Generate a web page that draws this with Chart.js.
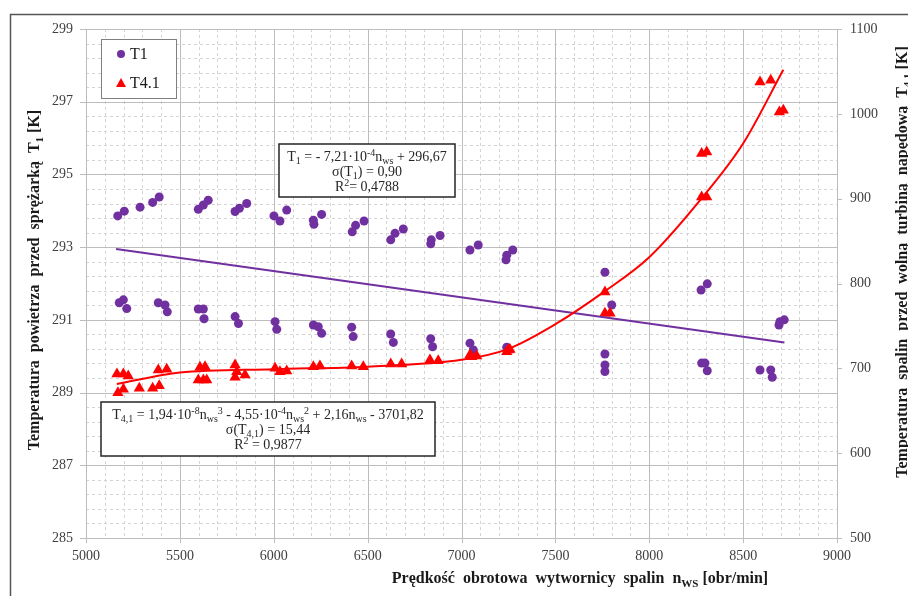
<!DOCTYPE html>
<html>
<head>
<meta charset="utf-8">
<script src="https://cdn.jsdelivr.net/npm/chart.js@4.4.1/dist/chart.umd.min.js"></script>
<style>
html, body { margin: 0; padding: 0; background: #fff; }
#chart { display: block; }
</style>
</head>
<body>
<canvas id="chart" width="908" height="596"></canvas>
<script>

/// DATA ///

// T1 - air temperature before the compressor [K]
const t1Rpm = [5169, 5204, 5288, 5355, 5390, 5598, 5625, 5651, 5794, 5817, 5856, 6001, 6033, 6069,
    6211, 6214, 6255, 6418, 6436, 6481, 6623, 6646, 6690, 6836, 6839, 6886, 7045, 7089, 7237, 7241, 7273,
    5177, 5199, 5217, 5385, 5421, 5433, 5598, 5625, 5629, 5794, 5812, 6007, 6016, 6211, 6237, 6255,
    6415, 6423, 6623, 6637, 6836, 6846, 7045, 7063, 7241,
    7764, 7800, 7764, 7764, 7764, 8276, 8309, 8279, 8297, 8309, 8590, 8647, 8655, 8691, 8696, 8719];
const t1Temp = [293.86, 293.99, 294.10, 294.23, 294.38, 294.04, 294.16, 294.29, 293.98, 294.07, 294.20, 293.86, 293.72, 294.02,
    293.74, 293.63, 293.90, 293.42, 293.60, 293.72, 293.20, 293.38, 293.50, 293.09, 293.20, 293.32, 292.92, 293.06, 292.65, 292.78, 292.92,
    291.47, 291.55, 291.31, 291.47, 291.41, 291.22, 291.30, 291.30, 291.03, 291.09, 290.90, 290.95, 290.74, 290.86, 290.81, 290.63,
    290.80, 290.54, 290.61, 290.38, 290.48, 290.26, 290.36, 290.17, 290.25,
    292.31, 291.41, 290.06, 289.76, 289.58, 291.82, 291.99, 289.81, 289.81, 289.60, 289.62, 289.62, 289.42, 290.86, 290.95, 291.00];

// T4.1 - exhaust temperature before the free power turbine [K]
const t41Rpm = [5165, 5199, 5225, 5170, 5199, 5284, 5355, 5390, 5385, 5430, 5607, 5634, 5598, 5625, 5643,
    5794, 5803, 5794, 5847, 6007, 6033, 6069, 6211, 6246, 6415, 6477, 6623, 6681, 6832, 6876,
    7054, 7081, 7045, 7241, 7258, 7250, 7764, 7764, 7791, 8279, 8306, 8279, 8306, 8590, 8647, 8693, 8714];
const t41Temp = [693.3, 693.3, 691.0, 671.3, 675.3, 676.4, 676.4, 679.5, 698.0, 698.8, 701.2, 701.9, 686.2, 686.2, 686.2,
    703.9, 696.0, 689.4, 692.1, 700.0, 696.0, 696.8, 702.0, 702.7, 702.7, 702.0, 705.0, 705.0, 709.8, 709.0,
    713.7, 714.5, 715.7, 719.5, 722.3, 721.6, 790.0, 764.8, 764.8, 902.1, 902.1, 953.2, 955.1, 1037.6, 1039.6, 1002.2, 1004.2];

// trend lines
const t1FitRpm = [5160, 8720];
const t1FitTemp = [292.95, 290.38];
const t41FitRpm = [5164, 5500, 6000, 6500, 7000, 7250, 7500, 7764, 8000, 8270, 8500, 8714];
const t41FitTemp = [681.5, 695, 699, 702, 710, 723, 752, 791, 831, 898, 965, 1052];

// axes
const xTicks = [5000, 5500, 6000, 6500, 7000, 7500, 8000, 8500, 9000];
const leftTicks = [285, 287, 289, 291, 293, 295, 297, 299];
const rightTicks = [500, 600, 700, 800, 900, 1000, 1100];

const PURPLE = '#7030A0';
const RED = '#FF0000';
const FONT = "'Liberation Serif', 'Times New Roman', serif";

const toPoints = (xs, ys) => xs.map((v, i) => ({ x: v, y: ys[i] }));


/// TEXT HELPER ///

// segs: [text, ''|'sub'|'sup']
function drawRich(ctx, segs, x, y, size, weight) {
    let total = 0;
    const parts = segs.map(s => {
        const kind = s[1] || '';
        const fs = kind ? Math.round(size * 0.68) : size;
        ctx.font = `${weight} ${fs}px ${FONT}`;
        const w = ctx.measureText(s[0]).width;
        total += w;
        return { text: s[0], kind, fs, w };
    });
    let cx = x - total / 2;
    ctx.textAlign = 'left';
    ctx.textBaseline = 'alphabetic';
    const base = y + size * 0.33;
    parts.forEach(p => {
        ctx.font = `${weight} ${p.fs}px ${FONT}`;
        let dy = 0;
        if (p.kind === 'sub') dy = size * 0.22;
        if (p.kind === 'sup') dy = -size * 0.36;
        ctx.fillText(p.text, cx, base + dy);
        cx += p.w;
    });
}


/// PLUGINS ///

const paperGrid = {
    id: 'paperGrid',
    beforeDraw(chart) {
        const ctx = chart.ctx;
        ctx.save();
        ctx.fillStyle = '#fff';
        ctx.fillRect(0, 0, chart.width, chart.height);
        ctx.restore();
    },
    beforeDatasetsDraw(chart) {
        const { ctx, chartArea: a } = chart;
        const { x, y, y2 } = chart.scales;
        const seg = (x1, y1, x2, y2_) => { ctx.beginPath(); ctx.moveTo(x1, y1); ctx.lineTo(x2, y2_); ctx.stroke(); };
        const px = v => Math.round(x.getPixelForValue(v)) + 0.5;
        const py = v => Math.round(y.getPixelForValue(v)) + 0.5;
        ctx.save();
        ctx.lineWidth = 1;

        // minor dashed grid - 5 parts per major step
        ctx.strokeStyle = '#d4d4d4';
        ctx.setLineDash([3, 3]);
        for (let i = 0; i < xTicks.length - 1; i++) {
            const step = (xTicks[i + 1] - xTicks[i]) / 5;
            for (let k = 1; k < 5; k++) seg(px(xTicks[i] + k * step), a.top, px(xTicks[i] + k * step), a.bottom);
        }
        for (let i = 0; i < leftTicks.length - 1; i++) {
            const step = (leftTicks[i + 1] - leftTicks[i]) / 5;
            for (let k = 1; k < 5; k++) seg(a.left, py(leftTicks[i] + k * step), a.right, py(leftTicks[i] + k * step));
        }

        // major solid grid + tick marks
        ctx.setLineDash([]);
        ctx.strokeStyle = '#bdbdbd';
        xTicks.forEach(v => seg(px(v), a.top, px(v), a.bottom + 5));
        leftTicks.forEach(v => seg(a.left - 6, py(v), a.right, py(v)));
        rightTicks.forEach(v => {
            const yy = Math.round(y2.getPixelForValue(v)) + 0.5;
            seg(a.right, yy, a.right + 5, yy);
        });
        ctx.restore();
    },
    afterDatasetsDraw(chart) {
        const ctx = chart.ctx;
        ctx.save();

        // legend
        ctx.fillStyle = '#fff';
        ctx.strokeStyle = '#7f7f7f';
        ctx.lineWidth = 1;
        ctx.fillRect(101, 39, 75, 59);
        ctx.strokeRect(101.5, 39.5, 75, 59);
        ctx.fillStyle = PURPLE;
        ctx.beginPath(); ctx.arc(121, 54, 4, 0, Math.PI * 2); ctx.fill();
        ctx.fillStyle = RED;
        ctx.beginPath(); ctx.moveTo(121, 78); ctx.lineTo(126, 87); ctx.lineTo(116, 87); ctx.closePath(); ctx.fill();
        ctx.fillStyle = '#1a1a1a';
        ctx.font = `16px ${FONT}`;
        ctx.textAlign = 'left';
        ctx.textBaseline = 'middle';
        ctx.fillText('T1', 130, 55);
        ctx.fillText('T4.1', 130, 84);

        // regression boxes
        ctx.lineWidth = 1.5;
        ctx.strokeStyle = '#262626';
        ctx.fillStyle = '#fff';
        ctx.fillRect(279, 144, 176, 53);
        ctx.strokeRect(279, 144, 176, 53);
        ctx.fillRect(101, 402, 334, 54);
        ctx.strokeRect(101, 402, 334, 54);

        ctx.fillStyle = '#262626';
        drawRich(ctx, [['T'], ['1', 'sub'], [' = - 7,21·10'], ['-4', 'sup'], ['n'], ['ws', 'sub'], [' + 296,67']], 367, 156, 14, 'normal');
        drawRich(ctx, [['σ(T'], ['1', 'sub'], [') = 0,90']], 367, 171, 14, 'normal');
        drawRich(ctx, [['R'], ['2', 'sup'], ['= 0,4788']], 367, 186, 14, 'normal');

        drawRich(ctx, [['T'], ['4,1', 'sub'], [' = 1,94·10'], ['-8', 'sup'], ['n'], ['ws', 'sub'], ['3', 'sup'],
            [' - 4,55·10'], ['-4', 'sup'], ['n'], ['ws', 'sub'], ['2', 'sup'], [' + 2,16n'], ['ws', 'sub'], [' - 3701,82']], 268, 414, 14, 'normal');
        drawRich(ctx, [['σ(T'], ['4,1', 'sub'], [') = 15,44']], 268, 429, 14, 'normal');
        drawRich(ctx, [['R'], ['2', 'sup'], [' = 0,9877']], 268, 444, 14, 'normal');
        ctx.restore();
    },
    afterDraw(chart) {
        const ctx = chart.ctx;
        ctx.save();
        // outer frame (top + left visible)
        ctx.strokeStyle = '#555';
        ctx.lineWidth = 1.5;
        ctx.beginPath();
        ctx.moveTo(10.5, 600); ctx.lineTo(10.5, 14.5); ctx.lineTo(910, 14.5);
        ctx.stroke();

        // axis titles
        ctx.fillStyle = '#1a1a1a';
        drawRich(ctx, [['Prędkość  obrotowa  wytwornicy  spalin  n'], ['WS', 'sub'], [' [obr/min]']], 580, 578, 16, 'bold');

        ctx.save();
        ctx.translate(34, 280);
        ctx.rotate(-Math.PI / 2);
        drawRich(ctx, [['Temperatura  powietrza  przed  sprężarką  T'], ['1', 'sub'], [' [K]']], 0, 0, 16, 'bold');
        ctx.restore();

        ctx.save();
        ctx.translate(902, 262);
        ctx.rotate(-Math.PI / 2);
        drawRich(ctx, [['Temperatura  spalin  przed  wolną  turbiną  napędową  T'], ['4,1', 'sub'], [' [K]']], 0, 0, 16, 'bold');
        ctx.restore();

        ctx.restore();
    }
};


/// CHART ///

const tickFont = { family: FONT, size: 14 };
const tickColor = '#404040';
const plainTick = v => String(v);

const config = {
    type: 'scatter',
    plugins: [paperGrid],
    data: {
        datasets: [
            {
                label: 'T4.1 fit',
                data: toPoints(t41FitRpm, t41FitTemp),
                yAxisID: 'y2',
                showLine: true,
                borderColor: RED,
                borderWidth: 2,
                pointRadius: 0,
                cubicInterpolationMode: 'monotone',
                order: 0
            },
            {
                label: 'T1 fit',
                data: toPoints(t1FitRpm, t1FitTemp),
                yAxisID: 'y',
                showLine: true,
                borderColor: PURPLE,
                borderWidth: 2,
                pointRadius: 0,
                order: 1
            },
            {
                label: 'T4.1',
                data: toPoints(t41Rpm, t41Temp),
                yAxisID: 'y2',
                pointStyle: 'triangle',
                pointRadius: 6.5,
                backgroundColor: RED,
                borderColor: RED,
                borderWidth: 0,
                order: 2
            },
            {
                label: 'T1',
                data: toPoints(t1Rpm, t1Temp),
                yAxisID: 'y',
                pointStyle: 'circle',
                pointRadius: 4.5,
                backgroundColor: PURPLE,
                borderColor: PURPLE,
                borderWidth: 0,
                order: 3
            }
        ]
    },
    options: {
        responsive: false,
        animation: false,
        events: [],
        layout: { padding: { top: 29, left: 0, right: 0, bottom: 0 } },
        plugins: {
            legend: { display: false },
            tooltip: { enabled: false }
        },
        scales: {
            x: {
                type: 'linear',
                min: xTicks[0],
                max: xTicks[xTicks.length - 1],
                afterBuildTicks: s => { s.ticks = xTicks.map(v => ({ value: v })); },
                afterFit: s => { s.height = 58; },
                grid: { display: false, drawTicks: false },
                border: { display: true, color: '#bdbdbd' },
                ticks: { font: tickFont, color: tickColor, padding: 10, maxRotation: 0, callback: plainTick }
            },
            y: {
                type: 'linear',
                position: 'left',
                min: leftTicks[0],
                max: leftTicks[leftTicks.length - 1],
                afterBuildTicks: s => { s.ticks = leftTicks.map(v => ({ value: v })); },
                afterFit: s => { s.width = 86; },
                grid: { display: false, drawTicks: false },
                border: { display: true, color: '#bdbdbd' },
                ticks: { font: tickFont, color: tickColor, padding: 13, callback: plainTick }
            },
            y2: {
                type: 'linear',
                position: 'right',
                min: rightTicks[0],
                max: rightTicks[rightTicks.length - 1],
                afterBuildTicks: s => { s.ticks = rightTicks.map(v => ({ value: v })); },
                afterFit: s => { s.width = 71; },
                grid: { display: false, drawTicks: false },
                border: { display: true, color: '#bdbdbd' },
                ticks: { font: tickFont, color: tickColor, padding: 13, callback: plainTick }
            }
        }
    }
};

const myChart = new Chart(document.getElementById('chart').getContext('2d'), config);
</script>
</body>
</html>
